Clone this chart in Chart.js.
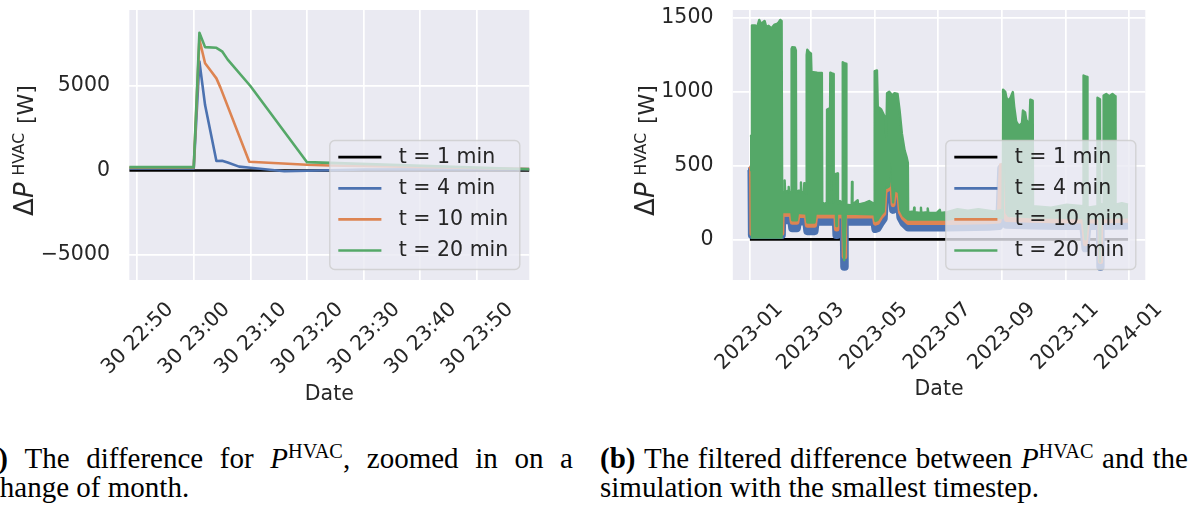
<!DOCTYPE html>
<html lang="en">
<head>
<meta charset="UTF-8">
<title>Difference in P HVAC</title>
<script src="https://cdn.jsdelivr.net/npm/chart.js"></script>
<style>
    body {
        margin: 0;
        width: 1200px;
        height: 509px;
        overflow: hidden;
        position: relative;
        background: #fff;
    }
    canvas {
        position: absolute;
        top: 0;
    }
    #zoomChart { left: 0; }
    #yearChart { left: 600px; }
    .cap {
        position: absolute;
        font-family: "Liberation Serif", serif;
        font-size: 29px;
        line-height: 29px;
        color: #000;
        white-space: nowrap;
    }
    .cap.first {
        display: flex;
        justify-content: space-between;
        align-items: baseline;
    }
    .cap sup {
        font-size: 0.7em;
        line-height: 0;
        vertical-align: 0.5em;
    }
</style>
</head>
<body>
<canvas id="zoomChart" width="600" height="420"></canvas>
<canvas id="yearChart" width="600" height="420"></canvas>

<div class="cap first" style="left:-26px; top:444px; width:599px;">
    <b>(a)</b><span>The</span><span>difference</span><span>for</span><span><i>P</i><sup>HVAC</sup>,</span><span>zoomed</span><span>in</span><span>on</span><span>a</span>
</div>
<div class="cap" style="left:-13px; top:473px;">change of month.</div>

<div class="cap first" style="left:600px; top:444px; width:588px;">
    <b>(b)</b><span>The</span><span>filtered</span><span>difference</span><span>between</span><span><i>P</i><sup>HVAC</sup></span><span>and</span><span>the</span>
</div>
<div class="cap" style="left:600px; top:473px;">simulation with the smallest timestep.</div>

<script>
    // (a) zoom on the change of month, x = minutes after 22:00 on the 30th
    const zoomTickMinutes = [50, 60, 70, 80, 90, 100, 110];
    const zoomTickLabels = ['30 22:50', '30 23:00', '30 23:10', '30 23:20', '30 23:30', '30 23:40', '30 23:50'];
    const zoomValueTicks = [-5000, 0, 5000];
    const zoomT1 = [[48.6, 0], [119.3, 0]];
    const zoomT4 = [[48.6, 120], [60, 120], [61, 6450], [62, 3870], [64, 560], [65, 580], [66, 470],
        [68, 230], [70, 160], [76, -40], [82, 0], [90, 60], [119.3, 80]];
    const zoomT10 = [[48.6, 180], [60, 180], [61, 7750], [62, 6350], [63, 5900], [64, 5450], [64.7, 4920],
        [69.8, 520], [80, 340], [84, 300], [119.3, 90]];
    const zoomT20 = [[48.6, 200], [60, 200], [61, 8150], [62, 7300], [64, 7260], [65, 7050], [66, 6560],
        [70, 5000], [80, 494], [84, 450], [119.3, 70]];

    // (b) whole year, x = days after 2023-01-01
    const yearTickDays = [0, 59, 120, 181, 243, 304, 365];
    const yearTickLabels = ['2023-01', '2023-03', '2023-05', '2023-07', '2023-09', '2023-11', '2024-01'];
    const yearValueTicks = [0, 500, 1000, 1500];
    const yearT1 = [[0.3, 0], [364, 0]];
    const yearT4 = [[0.3, 480], [1.8, 470], [2.2, 30], [31, 30], [31.3, 130], [40, 130], [41, 76], [45.5, 76],
        [46.5, 124], [54.5, 120], [55.5, 56], [62.5, 56], [63.5, 119], [83, 119], [83.5, 30], [84, 119],
        [90.5, 119], [91, -185], [91.5, 119], [120, 119], [121, 70], [123, 75], [126, 110], [129, 140],
        [130.5, 320], [132, 300], [134.3, 310], [135.8, 480], [137, 330], [138, 200], [139.5, 300], [141, 280],
        [143.5, 270], [145, 150], [148, 110], [152.5, 80], [190, 80], [230, 85], [240, 90], [242, 480],
        [246, 470], [247, 100], [272, 95], [300, 90], [321, 90], [323, -60], [325, 90], [337, 90],
        [337.3, -185], [337.6, 90], [364, 95]];
    const yearT10 = [[0.3, 500], [1.8, 490], [2.2, 40], [31, 40], [31.3, 170], [40, 170], [41, 116], [45.5, 116],
        [46.5, 164], [54.5, 160], [55.5, 96], [62.5, 96], [63.5, 159], [83, 159], [83.5, 70], [84, 159],
        [90.5, 159], [91, -117], [91.5, 159], [120, 159], [121, 110], [123, 115], [126, 150], [129, 175],
        [130.5, 355], [132, 335], [134.3, 345], [135.8, 510], [137, 365], [138, 235], [139.5, 335], [141, 315],
        [143.5, 305], [145, 185], [148, 145], [152.5, 115], [190, 115], [230, 120], [240, 125], [242, 500],
        [246, 490], [247, 135], [272, 130], [300, 125], [321, 125], [323, -30], [325, 125], [337, 125],
        [337.3, -150], [337.6, 125], [364, 130]];
    // t = 20 min swings so fast that it reads as a band: upper and lower edge
    const yearT20Upper = [[0.3, 700], [2.0, 700], [2.3, 1450], [5.5, 1450], [7, 1430], [9.3, 1487], [11, 1460],
        [14.4, 1480], [16, 1440], [18.3, 1447], [21, 1430], [24, 1455], [26.3, 1460], [28, 1470], [29.5, 1487],
        [30.8, 1480], [31.3, 320], [33.3, 320], [33.7, 400], [34.2, 320], [37.2, 330], [37.6, 356], [38, 320],
        [40.2, 320], [40.4, 1290], [41, 1302], [43.5, 1300], [44.5, 1280], [44.8, 320], [47, 330], [49.1, 330],
        [49.4, 385], [49.8, 320], [52.3, 320], [52.6, 380], [53, 320], [54.5, 310], [54.9, 1250], [55.5, 1285],
        [57, 1270], [59, 1260], [59.5, 1135], [65, 1130], [69.5, 1128], [69.9, 250], [72, 240], [74.3, 250],
        [74.5, 880], [76.8, 887], [77, 250], [77.6, 1130], [80.6, 1120], [80.9, 250], [81.3, 440], [84.8, 447],
        [85, 245], [87, 260], [89.4, 240], [89.6, 1200], [91, 1195], [92.8, 1190], [93.1, 235], [98.2, 230],
        [98.5, 390], [99, 235], [104, 265], [104.3, 235], [110, 245], [115, 260], [120.1, 240], [120.3, 1140],
        [122.5, 1145], [123.3, 900], [126.6, 880], [128, 860], [130.5, 822], [131.5, 700], [132.2, 990],
        [134.3, 1000], [135.5, 990], [136.9, 976], [139.4, 990], [142.3, 985], [144.3, 873], [146.5, 716],
        [149.1, 603], [151, 558], [152.2, 520], [152.5, 185], [158, 190], [158.3, 215], [158.7, 185],
        [164.6, 180], [164.8, 215], [165.2, 180], [171, 185], [171.3, 210], [172, 180], [180, 180], [183, 200],
        [183.4, 180], [190, 185], [200, 205], [210, 195], [220, 205], [235, 190], [243.5, 200], [243.8, 1014],
        [245.9, 1000], [247, 960], [249.1, 940], [251, 960], [253.2, 998], [254.5, 900], [256.4, 800],
        [258, 780], [260, 772], [262, 790], [262.9, 873], [265, 860], [266.1, 810], [268, 790], [269.3, 800],
        [270, 947], [272.3, 940], [272.6, 225], [290, 215], [305, 235], [321, 225], [321.2, 1110], [323, 1105],
        [324.8, 1100], [325, 215], [334.4, 225], [334.6, 960], [337, 950], [337.3, 240], [340.3, 235],
        [340.5, 975], [343, 985], [346, 970], [349, 985], [351.7, 970], [352, 235], [358, 245], [364, 235]];
    const yearT20Lower = [[0.3, 470], [2.0, 470], [2.3, 12], [30.8, 12], [31.3, 185], [40.2, 185], [41, 130],
        [45.5, 130], [46.5, 180], [54.5, 175], [55.5, 115], [62.5, 115], [63.5, 175], [83, 175], [83.5, 90],
        [84, 175], [89.4, 175], [91, -141], [92.5, 175], [120.1, 170], [121, 125], [123, 130], [126, 165],
        [129, 190], [130.5, 370], [132, 350], [134.3, 360], [135.8, 525], [137, 380], [138, 250], [139.5, 350],
        [141, 330], [143.5, 320], [145, 200], [148, 160], [152.5, 135], [190, 135], [200, 145], [220, 140],
        [243.5, 145], [243.8, 520], [245.9, 510], [247, 180], [249, 160], [272.6, 150], [321, 145], [323, 0],
        [325, 145], [336.5, 145], [337, -150], [337.5, 145], [364, 150]];

    const seriesLabels = ['t = 1 min', 't = 4 min', 't = 10 min', 't = 20 min'];
    const seriesColors = ['#000000', '#4C72B0', '#DD8452', '#55A868'];

    const TEXT = '#262626';
    const FONT = 'DejaVu Sans';
    const axisFont = { family: FONT, size: 20.5 };

    function line(points, color, width, order, extra) {
        return Object.assign({
            data: points.map(p => ({ x: p[0], y: p[1] })),
            borderColor: color,
            backgroundColor: color,
            borderWidth: width,
            borderJoinStyle: 'round',
            pointRadius: 0,
            tension: 0,
            fill: false,
            order: order,
            clip: 0
        }, extra || {});
    }

    // grey plot background of the seaborn style
    const plotBackground = {
        id: 'plotBackground',
        beforeDraw(chart) {
            const { ctx, chartArea: a } = chart;
            ctx.save();
            ctx.fillStyle = '#EAEAF2';
            ctx.fillRect(a.left, a.top, a.right - a.left, a.bottom - a.top);
            ctx.restore();
        }
    };

    // legend in the lower right corner, half see-through like matplotlib's
    const cornerLegend = {
        id: 'cornerLegend',
        afterDatasetsDraw(chart) {
            const { ctx, chartArea: a } = chart;
            const w = 190, h = 129, r = 5;
            const x0 = a.right - 9.5 - w, y0 = a.bottom - 10.5 - h;
            ctx.save();
            ctx.beginPath();
            ctx.moveTo(x0 + r, y0);
            ctx.arcTo(x0 + w, y0, x0 + w, y0 + h, r);
            ctx.arcTo(x0 + w, y0 + h, x0, y0 + h, r);
            ctx.arcTo(x0, y0 + h, x0, y0, r);
            ctx.arcTo(x0, y0, x0 + w, y0, r);
            ctx.closePath();
            ctx.fillStyle = 'rgba(234, 234, 242, 0.8)';
            ctx.fill();
            ctx.strokeStyle = 'rgba(204, 204, 204, 0.8)';
            ctx.lineWidth = 1.4;
            ctx.stroke();
            ctx.font = '20.5px "' + FONT + '"';
            ctx.textBaseline = 'middle';
            seriesLabels.forEach((label, i) => {
                const y = y0 + 16.7 + i * 31.1;
                ctx.strokeStyle = seriesColors[i];
                ctx.lineWidth = 2.7;
                ctx.beginPath();
                ctx.moveTo(x0 + 8.5, y);
                ctx.lineTo(x0 + 51.6, y);
                ctx.stroke();
                ctx.fillStyle = TEXT;
                ctx.fillText(label, x0 + 69, y);
            });
            ctx.restore();
        }
    };

    // y title with the superscript: ΔP^HVAC [W]
    function yTitle(baseX) {
        return {
            id: 'yTitle',
            afterDraw(chart) {
                const ctx = chart.ctx;
                const parts = [
                    { text: '\u0394', font: '26px "' + FONT + '"', rise: 0, gap: 0 },
                    { text: 'P', font: 'italic 26px "' + FONT + '"', rise: 0, gap: 7 },
                    { text: 'HVAC', font: '15.5px "' + FONT + '"', rise: 8.5, gap: 9 },
                    { text: '[W]', font: '22px "' + FONT + '"', rise: 0, gap: 0 }
                ];
                ctx.save();
                let total = 0;
                parts.forEach(p => {
                    ctx.font = p.font;
                    p.w = ctx.measureText(p.text).width;
                    total += p.w + p.gap;
                });
                ctx.translate(baseX, 150.5);
                ctx.rotate(-Math.PI / 2);
                ctx.fillStyle = TEXT;
                ctx.textBaseline = 'alphabetic';
                let s = -total / 2;
                parts.forEach(p => {
                    ctx.font = p.font;
                    ctx.fillText(p.text, s, -p.rise);
                    s += p.w + p.gap;
                });
                ctx.restore();
            }
        };
    }

    function options(cfg) {
        const grid = { color: '#FFFFFF', lineWidth: 1.7, drawTicks: false };
        return {
            responsive: false,
            animation: false,
            events: [],
            layout: { padding: { left: 0, top: 10, right: cfg.padRight, bottom: 0 } },
            plugins: { legend: { display: false }, tooltip: { enabled: false } },
            scales: {
                x: {
                    type: 'linear',
                    min: cfg.xMin,
                    max: cfg.xMax,
                    afterBuildTicks: s => { s.ticks = cfg.xTicks.map(v => ({ value: v })); },
                    afterFit: s => { s.height = 140; s.paddingLeft = 0; s.paddingRight = 0; },
                    grid: grid,
                    border: { display: false },
                    ticks: {
                        autoSkip: false,
                        minRotation: 45,
                        maxRotation: 45,
                        padding: 17.5,
                        labelOffset: cfg.labelOffset,
                        color: TEXT,
                        font: axisFont,
                        callback: (v, i) => cfg.xLabels[i]
                    },
                    title: {
                        display: true,
                        text: 'Date',
                        color: TEXT,
                        font: axisFont,
                        padding: { top: 0, bottom: cfg.titlePad }
                    }
                },
                y: {
                    type: 'linear',
                    min: cfg.yMin,
                    max: cfg.yMax,
                    afterBuildTicks: s => { s.ticks = cfg.yTicks.map(v => ({ value: v })); },
                    afterFit: s => { s.width = cfg.yWidth; s.paddingTop = 0; s.paddingBottom = 0; },
                    grid: grid,
                    border: { display: false },
                    ticks: {
                        padding: 19.3,
                        color: TEXT,
                        font: axisFont,
                        callback: v => (v < 0 ? '\u2212' + (-v) : String(v))
                    }
                }
            }
        };
    }

    new Chart(document.getElementById('zoomChart'), {
        type: 'line',
        data: {
            datasets: [
                line(zoomT1, seriesColors[0], 2.6, 4),
                line(zoomT4, seriesColors[1], 2.6, 3),
                line(zoomT10, seriesColors[2], 2.6, 2),
                line(zoomT20, seriesColors[3], 2.6, 1)
            ]
        },
        options: options({
            padRight: 70.7, yWidth: 129.3,
            xMin: 48.62, xMax: 119.25, xTicks: zoomTickMinutes, xLabels: zoomTickLabels, labelOffset: 33,
            yMin: -6479, yMax: 9497, yTicks: zoomValueTicks, titlePad: 12.7
        }),
        plugins: [plotBackground, cornerLegend, yTitle(32.7)]
    });

    new Chart(document.getElementById('yearChart'), {
        type: 'line',
        data: {
            datasets: [
                line(yearT1, seriesColors[0], 2.8, 5),
                line(yearT4, seriesColors[1], 8, 4),
                line(yearT10, seriesColors[2], 5, 3),
                line(yearT20Lower, seriesColors[3], 2.4, 2),
                line(yearT20Upper, seriesColors[3], 2.4, 1, { fill: '-1' })
            ]
        },
        options: options({
            padRight: 54.7, yWidth: 132.8,
            xMin: -16.16, xMax: 380.6, xTicks: yearTickDays, xLabels: yearTickLabels, labelOffset: 30,
            yMin: -275, yMax: 1554, yTicks: yearValueTicks, titlePad: 17.7
        }),
        plugins: [plotBackground, cornerLegend, yTitle(54)]
    });
</script>
</body>
</html>
